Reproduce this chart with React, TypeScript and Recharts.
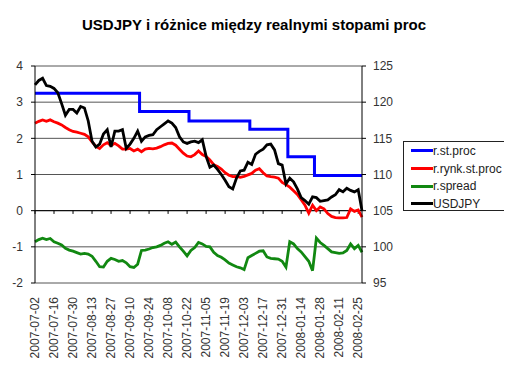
import React from 'react';
import { LineChart, Line, XAxis, YAxis, CartesianGrid, ReferenceLine } from 'recharts';

const xLabels = ['2007-07-02','2007-07-16','2007-07-30','2007-08-13','2007-08-27','2007-09-10','2007-09-24','2007-10-08','2007-10-22','2007-11-05','2007-11-19','2007-12-03','2007-12-17','2007-12-31','2008-01-14','2008-01-28','2008-02-11','2008-02-25'];

const rStProc = [
  3.25,3.25,3.25,3.25,3.25,3.25,3.25,3.25,3.25,3.25,
  3.25,3.25,3.25,3.25,3.25,3.25,3.25,3.25,3.25,3.25,
  3.25,3.25,3.25,3.25,3.25,3.25,3.25,3.25,2.74,2.74,
  2.74,2.74,2.74,2.74,2.74,2.74,2.74,2.74,2.74,2.74,
  2.74,2.48,2.48,2.48,2.48,2.48,2.48,2.48,2.48,2.48,
  2.48,2.48,2.48,2.48,2.48,2.48,2.48,2.25,2.25,2.25,
  2.25,2.25,2.25,2.25,2.25,2.25,2.25,1.49,1.49,1.49,
  1.49,1.49,1.49,1.49,0.97,0.97,0.97,0.97,0.97,0.97,
  0.97,0.97,0.97,0.97,0.97,0.97,0.97
];

const rRynkStProc = [
  2.42,2.47,2.51,2.47,2.51,2.46,2.42,2.37,2.30,2.24,
  2.19,2.17,2.14,2.11,2.04,1.90,1.78,1.72,1.82,1.88,
  1.80,1.86,1.79,1.70,1.70,1.72,1.65,1.70,1.63,1.70,
  1.72,1.71,1.73,1.77,1.82,1.86,1.87,1.81,1.70,1.59,
  1.51,1.49,1.55,1.65,1.55,1.50,1.40,1.27,1.22,1.15,
  1.05,0.98,0.94,0.95,0.92,0.95,0.99,1.03,1.12,1.16,
  1.05,0.96,0.94,0.93,0.90,0.78,0.72,0.65,0.55,0.45,
  0.30,0.15,-0.07,0.15,0.00,0.10,0.05,-0.08,-0.16,-0.19,
  -0.20,-0.20,-0.19,0.05,-0.02,0.02,-0.18
];

const rSpread = [
  -0.86,-0.80,-0.76,-0.80,-0.77,-0.86,-0.90,-0.95,-1.04,-1.09,
  -1.12,-1.16,-1.20,-1.18,-1.20,-1.26,-1.40,-1.55,-1.56,-1.40,
  -1.32,-1.35,-1.40,-1.38,-1.44,-1.55,-1.57,-1.48,-1.10,-1.09,
  -1.06,-1.02,-1.00,-0.96,-0.90,-0.86,-0.93,-0.87,-1.00,-1.12,
  -1.25,-1.10,-1.02,-0.88,-0.92,-0.99,-1.00,-1.15,-1.24,-1.29,
  -1.36,-1.45,-1.50,-1.55,-1.58,-1.63,-1.30,-1.24,-1.18,-1.12,
  -1.11,-1.28,-1.32,-1.33,-1.34,-1.40,-1.56,-0.86,-0.92,-1.05,
  -1.14,-1.27,-1.40,-1.66,-0.76,-0.88,-0.96,-1.05,-1.14,-1.16,
  -1.18,-1.17,-1.10,-0.92,-1.05,-0.96,-1.15
];

const usdjpy = [
  122.4,123.0,123.3,122.3,122.2,121.9,121.3,119.8,118.2,119.0,
  119.0,118.5,119.4,119.2,117.4,114.6,113.8,114.2,115.6,116.2,
  113.8,116.0,116.0,116.2,113.6,114.2,115.0,116.0,114.6,115.2,
  115.4,115.5,116.2,116.6,117.0,117.4,117.1,116.5,115.2,114.5,
  114.3,114.5,114.6,114.4,114.8,112.5,111.0,111.3,110.7,110.0,
  109.2,108.3,108.0,109.5,110.5,110.6,111.7,111.4,112.8,113.2,
  113.5,114.1,114.2,113.4,111.5,111.3,108.7,109.5,109.0,108.0,
  106.8,106.4,105.9,106.9,106.8,106.3,106.4,106.5,106.9,107.2,
  107.9,107.6,108.1,107.8,107.6,107.9,105.0
];

const leftTicks = [-2, -1, 0, 1, 2, 3, 4];
const rightTicks = [95, 100, 105, 110, 115, 120, 125];
const labelStep = 5;

const seriesNames = ['r.st.proc', 'r.rynk.st.proc', 'r.spread', 'USDJPY'];
const seriesColors = ['#0000ff', '#ff0000', '#118811', '#000000'];

const data = usdjpy.map((v, i) => ({
  k: i,
  stproc: rStProc[i],
  rynk: rRynkStProc[i],
  spread: rSpread[i],
  usdjpy: v,
}));

const xTicks = xLabels.map((_, i) => i * labelStep);

const XTick = (props: any) => {
  const { x, y, payload } = props;
  const idx = Math.round(payload.value / labelStep);
  return (
    <text
      x={x}
      y={y}
      transform={`rotate(-90, ${x}, ${y})`}
      textAnchor="end"
      dy="0.35em"
      fontSize={12}
      fill="#333"
      fontFamily="Liberation Sans, Arial, sans-serif"
    >
      {xLabels[idx]}
    </text>
  );
};

export default function App() {
  return (
    <div style={{ position: 'relative', width: 512, height: 370, fontFamily: 'Liberation Sans, Arial, sans-serif' }}>
      <div
        style={{
          position: 'absolute',
          top: 9,
          left: 0,
          width: 492,
          textAlign: 'center',
          fontWeight: 'bold',
          fontSize: 15,
          lineHeight: '15px',
          color: '#000',
        }}
      >
        USDJPY i różnice między realnymi stopami proc
      </div>
      <LineChart width={512} height={370} data={data} margin={{ top: 58, right: 118, bottom: 0, left: 0 }}>
        <CartesianGrid yAxisId="left" vertical={false} horizontal stroke="#555" strokeWidth={1} />
        <XAxis
          dataKey="k"
          type="number"
          domain={[0, 86]}
          ticks={xTicks}
          interval={0}
          height={95}
          axisLine={false}
          tickLine={false}
          tickSize={0}
          tickMargin={14}
          tick={<XTick />}
        />
        <YAxis
          yAxisId="left"
          domain={[-2, 4]}
          ticks={leftTicks}
          width={27}
          axisLine={{ stroke: '#000' }}
          tickLine={{ stroke: '#000' }}
          tickSize={4}
          tickMargin={8}
          tick={{ fontSize: 12, fill: '#333' }}
        />
        <YAxis
          yAxisId="right"
          orientation="right"
          domain={[95, 125]}
          ticks={rightTicks}
          width={40}
          axisLine={{ stroke: '#000' }}
          tickLine={{ stroke: '#000' }}
          tickSize={4}
          tickMargin={7}
          tick={{ fontSize: 12, fill: '#333', textAnchor: 'start' }}
        />
        <ReferenceLine yAxisId="left" y={0} stroke="#000" strokeWidth={1} />
        {xTicks.map((t) => (
          <ReferenceLine
            key={t}
            yAxisId="left"
            segment={[{ x: t, y: 0 }, { x: t, y: -0.09 }]}
            stroke="#000"
            strokeWidth={1}
          />
        ))}
        <Line yAxisId="left" type="step" dataKey="stproc" stroke={seriesColors[0]} strokeWidth={3} dot={false} isAnimationActive={false} />
        <Line yAxisId="left" type="linear" dataKey="rynk" stroke={seriesColors[1]} strokeWidth={2.8} dot={false} isAnimationActive={false} />
        <Line yAxisId="left" type="linear" dataKey="spread" stroke={seriesColors[2]} strokeWidth={2.8} dot={false} isAnimationActive={false} />
        <Line yAxisId="right" type="linear" dataKey="usdjpy" stroke={seriesColors[3]} strokeWidth={2.8} dot={false} isAnimationActive={false} />
      </LineChart>
      <div
        style={{
          position: 'absolute',
          left: 395,
          top: 133,
          width: 101,
          height: 68,
          border: '1px solid #222',
          background: '#fff',
        }}
      >
        {seriesNames.map((n, i) => (
          <div key={n} style={{ display: 'flex', alignItems: 'center', height: 17.7 }}>
            <div style={{ marginLeft: 7, width: 22, height: 3, background: seriesColors[i] }} />
            <span style={{ fontSize: 12, color: '#222', lineHeight: '14px', whiteSpace: 'nowrap' }}>{n}</span>
          </div>
        ))}
      </div>
    </div>
  );
}
